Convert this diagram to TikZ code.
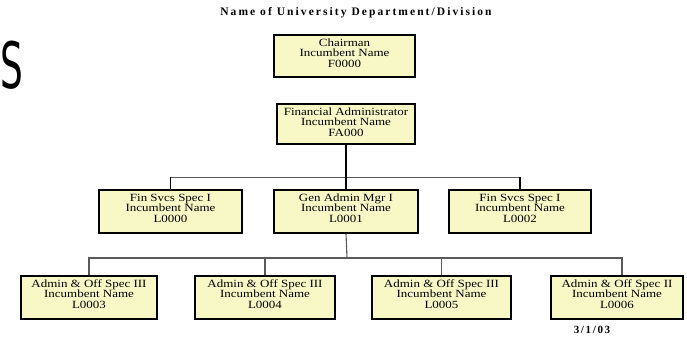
\documentclass[tikz,border=0pt]{standalone}
\usepackage{fontspec}
\setmainfont{Liberation Serif}
\newfontfamily\boxfont[FakeStretch=1.18]{Liberation Serif}
\newfontfamily\titlefont[LetterSpace=18]{Liberation Serif}
\newfontfamily\datefont[LetterSpace=15]{Liberation Serif}
\newfontfamily\bigsans{DejaVu Sans}
\definecolor{boxfill}{RGB}{248,248,198}
\definecolor{connGray}{RGB}{90,90,90}
\newcommand{\bxt}[5]{\parbox[c][#2][t]{#1}{\centering\rule{0pt}{11pt}#3\\#4\\#5}}
\tikzset{
  orgbox/.style={draw=black, line width=1.6pt, fill=boxfill, inner sep=0pt,
    font=\boxfont\fontsize{11}{10.5}\selectfont},
  trunk/.style={line width=1.8pt, black},
  branchtwo/.style={line width=1.6pt, black},
  hline/.style={line width=0.9pt, connGray},
  connthree/.style={line width=1.1pt, connGray},
  titletext/.style={font=\titlefont\bfseries\fontsize{11.5}{13}\selectfont, inner sep=0pt},
  datetext/.style={font=\datefont\bfseries\fontsize{11}{13}\selectfont, inner sep=0pt},
}
\begin{document}
\begin{tikzpicture}[x=1pt,y=-1pt]
\useasboundingbox[fill=white] (0,0) rectangle (687,337);

% big letter at left edge
\node[font=\bigsans\fontsize{64}{64}\selectfont, inner sep=0pt, anchor=base west] (bigS) at (0,88) {\scalebox{0.56}[1]{S}};

% title
\node[titletext] (title) at (356,13) {Name of University Department/Division};

% level 0 and 1
\node[orgbox] (chair) at (344.5,56) {\bxt{141pt}{42pt}{Chairman}{Incumbent Name}{F0000}};
\node[orgbox] (fa) at (346,124) {\bxt{138pt}{40pt}{Financial Administrator}{Incumbent Name}{FA000}};

% level 2
\node[orgbox] (l1) at (170.5,211.5) {\bxt{143pt}{43pt}{Fin Svcs Spec I}{Incumbent Name}{L0000}};
\node[orgbox] (l2) at (346,211.5) {\bxt{144pt}{43pt}{Gen Admin Mgr I}{Incumbent Name}{L0001}};
\node[orgbox] (l3) at (520,211.5) {\bxt{142pt}{43pt}{Fin Svcs Spec I}{Incumbent Name}{L0002}};

% level 3
\node[orgbox] (m1) at (89,297.5) {\bxt{136pt}{43pt}{Admin \& Off Spec III}{Incumbent Name}{L0003}};
\node[orgbox] (m2) at (265,297.5) {\bxt{140pt}{43pt}{Admin \& Off Spec III}{Incumbent Name}{L0004}};
\node[orgbox] (m3) at (441.5,297.5) {\bxt{139pt}{43pt}{Admin \& Off Spec III}{Incumbent Name}{L0005}};
\node[orgbox] (m4) at (617,297.5) {\bxt{132pt}{43pt}{Admin \& Off Spec II}{Incumbent Name}{L0006}};

% date
\node[datetext] (date) at (592,330) {3/1/03};

% junctions
\coordinate (j1) at (346,177);
\coordinate (j2) at (347,258);

% connectors level 1 -> 2
\draw[hline] (l1.north |- j1) -- (l3.north |- j1);
\draw[trunk] (fa.south) -- (l2.north);
\draw[branchtwo] (l1.north) -- (l1.north |- j1);
\draw[branchtwo] (l3.north) -- (l3.north |- j1);

% connectors level 2 -> 3
\draw[connthree] (l2.south) -- (j2);
\draw[connthree] (m1.north) |- (j2) -| ([xshift=5pt]m4.north);
\draw[connthree] (m2.north) -- (m2.north |- j2);
\draw[connthree] (m3.north) -- (m3.north |- j2);
\end{tikzpicture}
\end{document}
